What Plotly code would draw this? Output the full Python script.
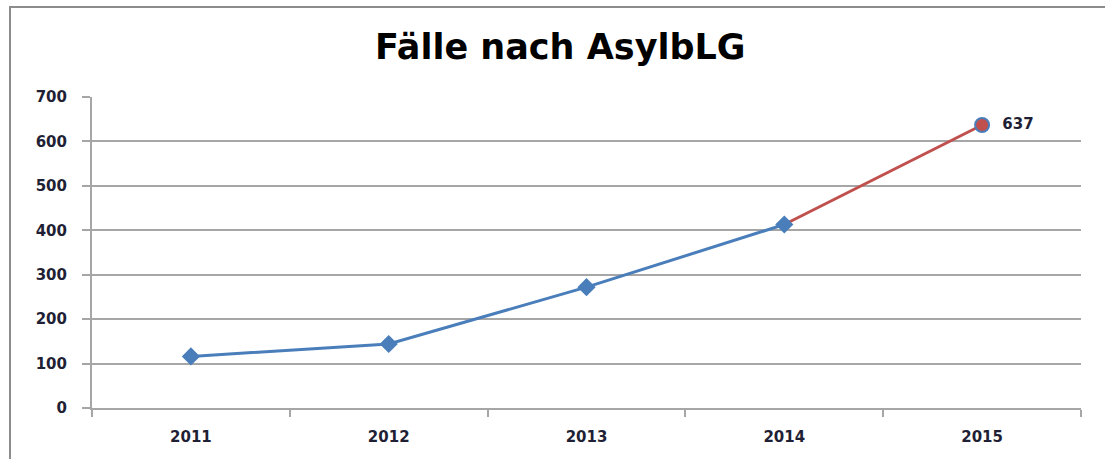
import plotly.graph_objects as go

years = ["2011", "2012", "2013", "2014", "2015"]
values = [116, 144, 272, 413, 637]
y_ticks = [0, 100, 200, 300, 400, 500, 600, 700]
title_text = "Fälle nach AsylbLG"

blue = "#4A7EBB"
red = "#C0504D"
grid = "#A6A6A6"
txt = "#1F1F35"

fig = go.Figure()
# red projection segment (2014 -> 2015)
fig.add_trace(go.Scatter(
    x=years[3:], y=values[3:], mode="lines",
    line=dict(color=red, width=3), hoverinfo="skip", showlegend=False))
# 2015 marker with label
fig.add_trace(go.Scatter(
    x=years[4:], y=values[4:], mode="markers+text",
    text=["  " + str(v) for v in values[4:]], textposition="middle right",
    textfont=dict(family="DejaVu Sans", size=15, color=txt, weight="bold"),
    marker=dict(symbol="circle", size=14, color=red, line=dict(color=blue, width=2)),
    showlegend=False))
# blue series 2011-2014
fig.add_trace(go.Scatter(
    x=years[:4], y=values[:4], mode="lines+markers",
    line=dict(color=blue, width=3),
    marker=dict(symbol="diamond", size=14, color=blue),
    showlegend=False))

fig.update_layout(
    width=1105, height=459,
    margin=dict(l=92, r=24, t=97, b=51),
    paper_bgcolor="white", plot_bgcolor="white",
    title=dict(text=title_text, x=0.507, xanchor="center", y=1 - 47 / 459, yanchor="middle",
               font=dict(family="DejaVu Sans", size=35, color="#000000", weight="bold")),
    xaxis=dict(type="category", categoryorder="array", categoryarray=years,
               tickson="boundaries", ticks="outside", ticklen=7,
               tickcolor=grid, tickwidth=2, showline=True, linecolor=grid, linewidth=2,
               showgrid=False, ticklabelstandoff=14,
               tickfont=dict(family="DejaVu Sans", size=15, color=txt, weight="bold"),
               range=[-0.5, 4.5]),
    yaxis=dict(range=[0, 700], tickvals=y_ticks, ticks="outside", ticklen=8,
               tickcolor=grid, tickwidth=2, showline=True, linecolor=grid, linewidth=2,
               showgrid=True, gridcolor=grid, gridwidth=2, zeroline=False,
               ticklabelstandoff=12,
               tickfont=dict(family="DejaVu Sans", size=15, color=txt, weight="bold")),
    shapes=[dict(type="rect", xref="paper", yref="paper",
                 x0=(10 - 92) / 989, x1=(1115 - 92) / 989,
                 y0=(408 - 470) / 311, y1=(408 - 7) / 311,
                 line=dict(color="#8C8C8C", width=2), layer="below")],
)

fig.write_html("out.html", config={"displayModeBar": False},
               post_script="document.body.style.margin='0';")
